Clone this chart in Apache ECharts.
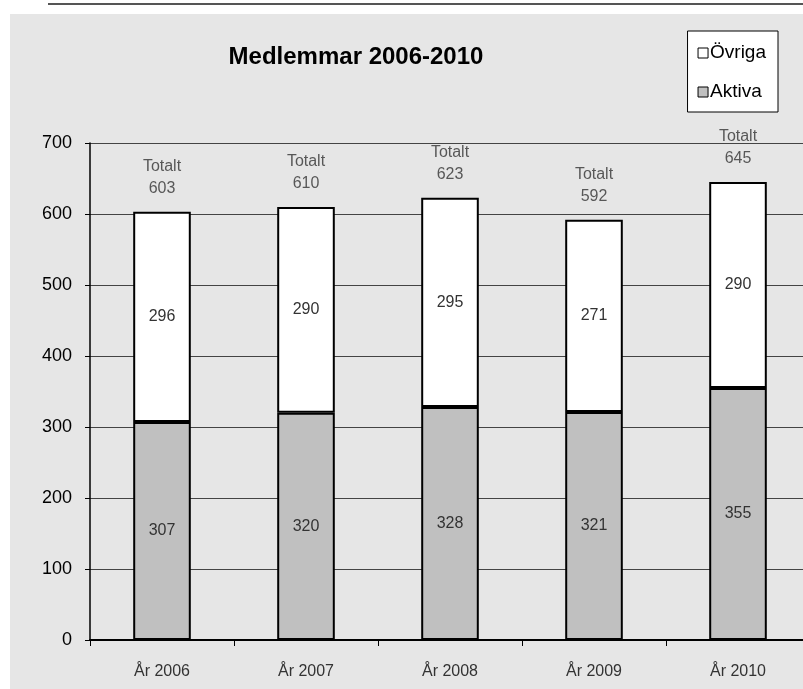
<!DOCTYPE html>
<html><head><meta charset="utf-8">
<script src="https://cdn.jsdelivr.net/npm/echarts@6/dist/echarts.min.js"></script>
<style>html,body{margin:0;padding:0;background:#fff;overflow:hidden;width:803px;height:689px}#c{width:810px;height:689px}</style>
</head><body><div id="c"></div>
<script>
const categories = ['År 2006', 'År 2007', 'År 2008', 'År 2009', 'År 2010'];
const aktiva = [307, 320, 328, 321, 355];
const ovriga = [296, 290, 295, 271, 290];
const totals = aktiva.map((v, i) => v + ovriga[i]);
const yTicks = [0, 100, 200, 300, 400, 500, 600, 700];

const chart = echarts.init(document.getElementById('c'), null, {renderer: 'canvas'});
const font = "'Liberation Sans', Arial, sans-serif";
chart.setOption({
  backgroundColor: '#fff',
  animation: false,
  graphic: [
    {type: 'rect', z: -10, shape: {x: 10, y: 14, width: 800, height: 690}, style: {fill: '#e6e6e6'}},
    {type: 'line', shape: {x1: 48, y1: 4, x2: 810, y2: 4}, style: {stroke: '#555', lineWidth: 2}}
  ],
  title: {
    text: 'Medlemmar 2006-2010',
    left: 351, top: 40, textAlign: 'center',
    textStyle: {fontFamily: font, fontWeight: 'bold', fontSize: 24, color: '#000'}
  },
  legend: {
    orient: 'vertical',
    right: 32, top: 31,
    padding: [12, 12, 10, 10],
    itemGap: 19,
    itemWidth: 10, itemHeight: 10,
    backgroundColor: '#fff',
    borderColor: '#000', borderWidth: 1,
    icon: 'rect',
    textStyle: {fontFamily: font, fontSize: 19, lineHeight: 20, color: '#000', padding: [0, 0, 0, -3]},
    data: [
      {name: 'Övriga', itemStyle: {color: '#fff', borderColor: '#000', borderWidth: 1}},
      {name: 'Aktiva', itemStyle: {color: '#c0c0c0', borderColor: '#000', borderWidth: 1}}
    ]
  },
  grid: {left: 90, right: 0, top: 143, bottom: 49},
  xAxis: {
    type: 'category', data: categories,
    axisLine: {lineStyle: {color: '#000', width: 2}},
    axisTick: {show: true, length: 6, lineStyle: {color: '#000', width: 1}},
    axisLabel: {fontFamily: font, fontSize: 16, color: '#333', margin: 24}
  },
  yAxis: {
    type: 'value', min: 0, max: 700, interval: 100,
    axisLine: {show: true, lineStyle: {color: '#000', width: 1.5}},
    axisTick: {show: true, length: 5, lineStyle: {color: '#000'}},
    axisLabel: {fontFamily: font, fontSize: 18, color: '#000', margin: 18,
      formatter: v => yTicks.includes(v) ? String(v) : ''},
    splitLine: {lineStyle: {color: '#444', width: 1}}
  },
  series: [
    {
      name: 'Aktiva', type: 'bar', stack: 's', data: aktiva, barWidth: '40%',
      itemStyle: {color: '#c0c0c0', borderColor: '#000', borderWidth: 2},
      label: {show: true, position: 'inside', fontFamily: font, fontSize: 16, color: '#333'}
    },
    {
      name: 'Övriga', type: 'bar', stack: 's', data: ovriga, barWidth: '40%',
      itemStyle: {color: '#fff', borderColor: '#000', borderWidth: 2},
      label: {show: true, position: 'inside', fontFamily: font, fontSize: 16, color: '#333'}
    },
    {
      name: 'Totalt', type: 'scatter', data: totals, symbolSize: 0, silent: true,
      label: {show: true, position: 'top', distance: 12, formatter: p => 'Totalt\n' + p.value,
        fontFamily: font, fontSize: 16, lineHeight: 22, color: '#333', align: 'center'}
    }
  ]
});
</script></body></html>
